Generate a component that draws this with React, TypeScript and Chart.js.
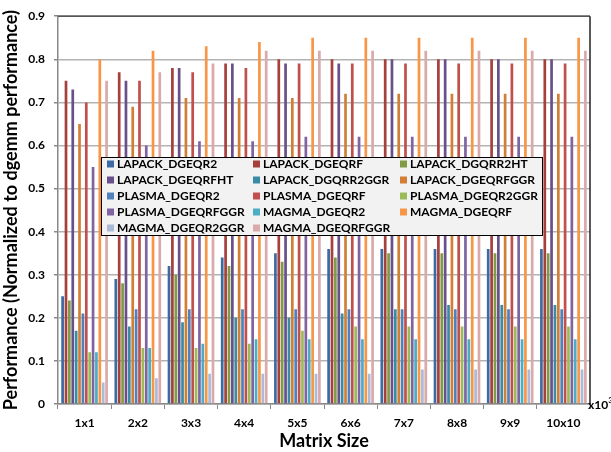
import React, { useEffect, useRef } from "react";
import { Chart, registerables } from "chart.js";

Chart.register(...registerables);

const categories = ["1x1", "2x2", "3x3", "4x4", "5x5", "6x6", "7x7", "8x8", "9x9", "10x10"];
const seriesNames = [
  "LAPACK_DGEQR2", "LAPACK_DGEQRF", "LAPACK_DGQRR2HT", "LAPACK_DGEQRFHT",
  "LAPACK_DGQRR2GGR", "LAPACK_DGEQRFGGR", "PLASMA_DGEQR2", "PLASMA_DGEQRF",
  "PLASMA_DGEQR2GGR", "PLASMA_DGEQRFGGR", "MAGMA_DGEQR2", "MAGMA_DGEQRF",
  "MAGMA_DGEQR2GGR", "MAGMA_DGEQRFGGR",
];
const colors = [
  "#3d6aa3", "#a5403d", "#809b45", "#68518a", "#3a8ca6", "#d27f36", "#4f81bd",
  "#c0504d", "#9bbb59", "#8064a2", "#4bacc6", "#f79646", "#aabad8", "#d9aaa9",
];
const lapackDgeqr2 = [0.25, 0.29, 0.32, 0.34, 0.35, 0.36, 0.36, 0.36, 0.36, 0.36];
const lapackDgeqrf = [0.75, 0.77, 0.78, 0.79, 0.80, 0.80, 0.80, 0.80, 0.80, 0.80];
const lapackDgqrr2ht = [0.24, 0.28, 0.30, 0.32, 0.33, 0.34, 0.35, 0.35, 0.35, 0.35];
const lapackDgeqrfht = [0.73, 0.75, 0.78, 0.79, 0.79, 0.79, 0.80, 0.80, 0.80, 0.80];
const lapackDgqrr2ggr = [0.17, 0.18, 0.19, 0.20, 0.20, 0.21, 0.22, 0.23, 0.23, 0.23];
const lapackDgeqrfggr = [0.65, 0.69, 0.71, 0.71, 0.71, 0.72, 0.72, 0.72, 0.72, 0.72];
const plasmaDgeqr2 = [0.21, 0.22, 0.22, 0.22, 0.22, 0.22, 0.22, 0.22, 0.22, 0.22];
const plasmaDgeqrf = [0.70, 0.75, 0.77, 0.78, 0.79, 0.79, 0.79, 0.79, 0.79, 0.79];
const plasmaDgeqr2ggr = [0.12, 0.13, 0.13, 0.14, 0.17, 0.18, 0.18, 0.18, 0.18, 0.18];
const plasmaDgeqrfggr = [0.55, 0.60, 0.61, 0.61, 0.62, 0.62, 0.62, 0.62, 0.62, 0.62];
const magmaDgeqr2 = [0.12, 0.13, 0.14, 0.15, 0.15, 0.15, 0.15, 0.15, 0.15, 0.15];
const magmaDgeqrf = [0.80, 0.82, 0.83, 0.84, 0.85, 0.85, 0.85, 0.85, 0.85, 0.85];
const magmaDgeqr2ggr = [0.05, 0.06, 0.07, 0.07, 0.07, 0.07, 0.08, 0.08, 0.08, 0.08];
const magmaDgeqrfggr = [0.75, 0.77, 0.79, 0.82, 0.82, 0.82, 0.82, 0.82, 0.82, 0.82];
const seriesValues = [
  lapackDgeqr2, lapackDgeqrf, lapackDgqrr2ht, lapackDgeqrfht, lapackDgqrr2ggr,
  lapackDgeqrfggr, plasmaDgeqr2, plasmaDgeqrf, plasmaDgeqr2ggr, plasmaDgeqrfggr,
  magmaDgeqr2, magmaDgeqrf, magmaDgeqr2ggr, magmaDgeqrfggr,
];
const yTickLabels = ["0", "0.1", "0.2", "0.3", "0.4", "0.5", "0.6", "0.7", "0.8", "0.9"];
const yTitle = "Performance (Normalized to dgemm performance)";
const xTitle = "Matrix Size";

const FONT = "Lato, 'Liberation Sans', sans-serif";

const overlayPlugin = {
  id: "overlay",
  afterDraw(chart: any) {
    const { ctx, chartArea } = chart;
    const { left, right, top, bottom } = chartArea;
    ctx.save();
    // top and right borders
    ctx.strokeStyle = "#555555";
    ctx.lineWidth = 1.5;
    ctx.beginPath();
    ctx.moveTo(left, top);
    ctx.lineTo(right, top);
    ctx.stroke();
    ctx.strokeStyle = "#222222";
    ctx.beginPath();
    ctx.moveTo(right, top);
    ctx.lineTo(right, bottom);
    ctx.stroke();

    // legend box
    const bx = 101, by = 157, bw = 441, bh = 78;
    ctx.fillStyle = "#f2f2f2";
    ctx.fillRect(bx, by, bw, bh);
    ctx.strokeStyle = "#000000";
    ctx.lineWidth = 1;
    ctx.strokeRect(bx + 0.5, by + 0.5, bw, bh);
    const colX = [107, 253, 400];
    const rowY = [164, 180, 196, 212, 228];
    ctx.font = "bold 12px " + FONT;
    ctx.textBaseline = "middle";
    ctx.textAlign = "left";
    seriesNames.forEach((name, i) => {
      const r = Math.floor(i / 3);
      const c = i % 3;
      const x = colX[c];
      const y = rowY[r];
      ctx.fillStyle = colors[i];
      ctx.fillRect(x, y - 3.5, 7, 7);
      ctx.fillStyle = "#000000";
      ctx.fillText(name, x + 10, y + 0.5);
    });

    // x10^3
    ctx.fillStyle = "#000000";
    ctx.font = "bold 12px " + FONT;
    ctx.textBaseline = "middle";
    ctx.fillText("x10", right - 2, bottom + 1);
    const w = ctx.measureText("x10").width;
    ctx.font = "bold 8px " + FONT;
    ctx.fillText("3", right - 2 + w, bottom - 4);
    ctx.restore();
  },
};

export default function App() {
  const canvasRef = useRef<HTMLCanvasElement | null>(null);
  useEffect(() => {
    document.body.style.margin = "0";
    const canvas = canvasRef.current;
    if (!canvas) return;
    const chart = new Chart(canvas, {
      type: "bar",
      data: {
        labels: categories,
        datasets: seriesNames.map((name, i) => ({
          label: name,
          data: seriesValues[i],
          backgroundColor: colors[i],
          borderWidth: 0,
          categoryPercentage: 0.89,
          barPercentage: 0.8,
        })),
      },
      options: {
        animation: false,
        responsive: false,
        maintainAspectRatio: false,
        layout: { padding: { top: 7, right: 21, left: 0, bottom: 0 } },
        plugins: {
          legend: { display: false },
          tooltip: { enabled: false },
        },
        scales: {
          x: {
            offset: true,
            grid: {
              display: true,
              offset: true,
              drawOnChartArea: false,
              drawTicks: true,
              tickLength: 5,
              color: "#888888",
            },
            border: { display: true, color: "#888888", width: 1.5 },
            ticks: {
              color: "#000000",
              font: { family: FONT, size: 12, weight: "bold" },
              padding: 7,
              maxRotation: 0,
            },
            title: {
              display: true,
              text: xTitle,
              color: "#000000",
              font: { family: FONT, size: 18, weight: "bold" },
              padding: { top: 0, bottom: 0 },
            },
            afterFit: (s: any) => {
              s.height = 48;
            },
          },
          y: {
            min: 0,
            max: 0.9,
            ticks: {
              stepSize: 0.1,
              color: "#000000",
              font: { family: FONT, size: 12, weight: "bold" },
              padding: 9,
              callback: (_v: any, i: number) => yTickLabels[i],
            },
            grid: {
              color: "#b3b3b3",
              lineWidth: 1.5,
              tickLength: 4,
              tickColor: "#888888",
            },
            border: { display: true, color: "#888888", width: 1.5 },
            title: {
              display: true,
              text: yTitle,
              color: "#000000",
              font: { family: FONT, size: 18, weight: "bold" },
              padding: { top: 0, bottom: 0 },
            },
            afterFit: (s: any) => {
              s.width = 58;
            },
          },
        },
      },
      plugins: [overlayPlugin],
    } as any);
    return () => chart.destroy();
  }, []);
  return (
    <div style={{ position: "absolute", left: 0, top: 0, width: 611, height: 452 }}>
      <canvas ref={canvasRef} width={611} height={452} style={{ width: 611, height: 452 }} />
    </div>
  );
}
